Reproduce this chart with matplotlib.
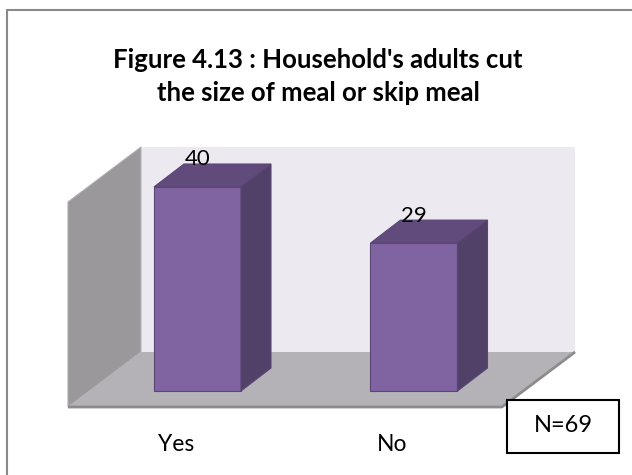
import matplotlib.pyplot as plt
from matplotlib.patches import Polygon, Rectangle

categories = ["Yes", "No"]
values = [40, 29]
n_total = 69
title = "Figure 4.13 : Household's adults cut\nthe size of meal or skip meal"

plt.rcParams['font.family'] = ['Lato', 'DejaVu Sans']

front_c = "#8064A2"
top_c = "#614B7D"
side_c = "#514068"
edge_c = "#5A4675"

fig = plt.figure(figsize=(6.32, 4.75), dpi=100)
ax = fig.add_axes([0, 0, 1, 1])
ax.set_xlim(-0.912, 2.007)
ax.set_ylim(-16.47, 76.67)
ax.axis("off")

# outer chart border (only left/top fall inside the image)
fig.patches.append(Rectangle((7 / 632, -0.05), 1.2, (475 - 10) / 475 + 0.05,
                             transform=fig.transFigure, fill=False,
                             edgecolor="#8a8a8a", linewidth=1.5))

# 3d box: floor, left wall, back wall
fl, fr = -3.14, 7.65          # floor front / back height
x_fl, x_bl, x_br, x_fr = -0.598, -0.261, 1.744, 1.406
wall_top = 47.84
left_top = 37.06

ax.add_patch(Polygon([(x_bl, fr), (x_br, fr), (x_br, wall_top), (x_bl, wall_top)],
                     closed=True, facecolor="#ECE9F1", edgecolor="none"))
ax.add_patch(Polygon([(x_fl, fl), (x_fl, left_top), (x_bl, wall_top), (x_bl, fr)],
                     closed=True, facecolor="#9A989B", edgecolor="#b0aeb1", linewidth=0.8))
ax.add_patch(Polygon([(x_fl, fl), (x_bl, fr), (x_br, fr), (x_fr, fl)],
                     closed=True, facecolor="#B5B2B7", edgecolor="none"))
ax.plot([x_fl, x_fr, x_br], [fl, fl, fr], color="#8c8c8c", linewidth=2,
        solid_capstyle="butt")

# bars with top and side faces
w = 0.402
dx, dy = 0.1386, 4.51
xs = list(range(len(categories)))
bars = ax.bar(xs, values, width=w, color=front_c, edgecolor=edge_c, linewidth=0.8, zorder=3)
for x, v in zip(xs, values):
    l, r = x - w / 2, x + w / 2
    ax.add_patch(Polygon([(l, v), (l + dx, v + dy), (r + dx, v + dy), (r, v)],
                         closed=True, facecolor=top_c, edgecolor=edge_c, linewidth=0.8, zorder=3))
    ax.add_patch(Polygon([(r, 0), (r, v), (r + dx, v + dy), (r + dx, dy)],
                         closed=True, facecolor=side_c, edgecolor=edge_c, linewidth=0.8, zorder=3))
    ax.text(x, v + 5.4, str(v), ha="center", va="center", fontsize=16, color="black", zorder=5)

# category names sit on the front edge of the floor
for x, c in zip(xs, categories):
    ax.text(x - 0.1, -10.4, c, ha="center", va="center", fontsize=16.5, color="black")

fig.text(318 / 632, 1 - 48 / 475, title, ha="center", va="top", fontsize=18.5,
         fontweight="bold", linespacing=1.45)

# sample size box
fig.patches.append(Rectangle((507 / 632, 22 / 475), 112 / 632, 53 / 475,
                             transform=fig.transFigure, facecolor="white",
                             edgecolor="black", linewidth=1.5))
fig.text(563 / 632, 1 - 426 / 475, f"N={n_total}", ha="center", va="center", fontsize=17)

fig.savefig("out.png", dpi=100)
